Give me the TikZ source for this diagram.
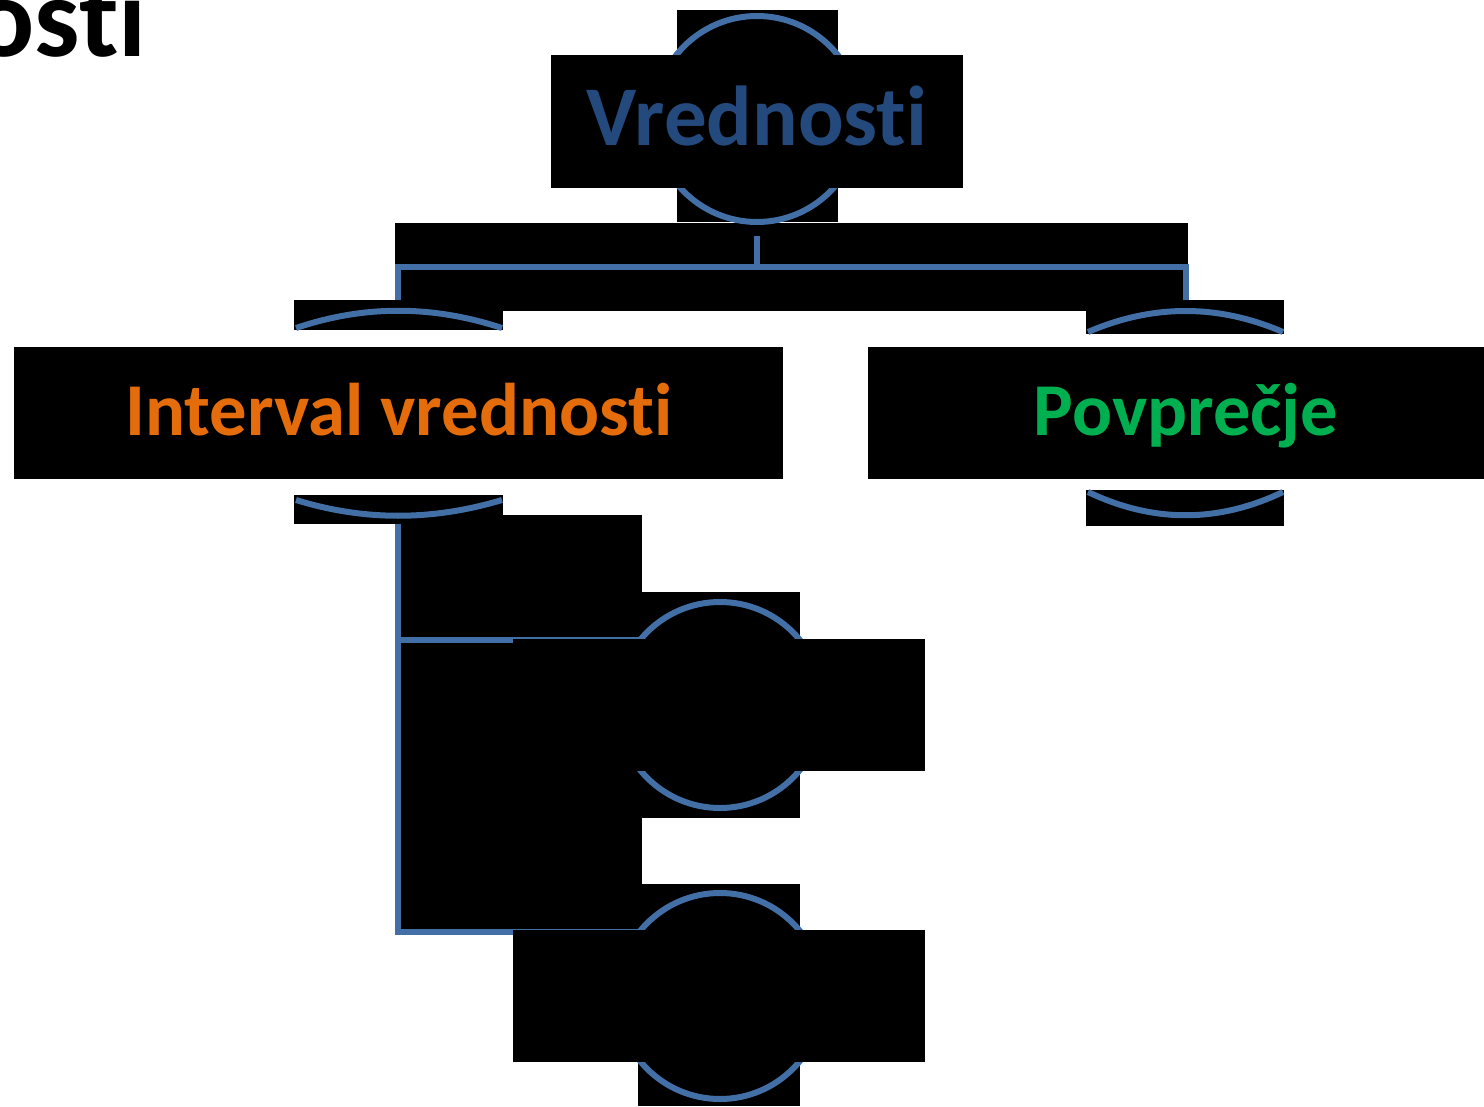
\documentclass[tikz,border=0pt]{standalone}
\usepackage{fontspec}
\setmainfont{Carlito}[Ligatures={NoCommon,NoRequired,NoContextual}]
\definecolor{ringblue}{RGB}{66,111,166}
\definecolor{titleblue}{RGB}{36,74,125}
\definecolor{orangetxt}{RGB}{228,108,10}
\definecolor{greentxt}{RGB}{0,176,80}
\begin{document}
\begin{tikzpicture}[x=0.5pt,y=-0.5pt,
  blk/.style={fill=black,draw=none},
  ring/.style={draw=ringblue,line width=3pt},
  conn/.style={draw=ringblue,line width=3pt},
  arcline/.style={draw=ringblue,line width=3pt},
  tbox/.style={fill=black,draw=none,inner sep=0pt,minimum height=66pt},
  lbl/.style={inner sep=0pt,anchor=base,font=\bfseries}]
\useasboundingbox (0,0) rectangle (1484,1107);
\fill[white] (0,0) rectangle (1484,1107);
% title fragment
\node[lbl,anchor=base east,font=\bfseries\fontsize{57}{60}\selectfont] (title) at (147,57) {osti};
% black backgrounds
\fill[blk] (677,10) rectangle (838,222);
\fill[blk] (395,223) rectangle (1188,311);
\fill[blk] (294,300) rectangle (503,330);
\fill[blk] (1086,300) rectangle (1284,334);
\fill[blk] (294,495) rectangle (503,524);
\fill[blk] (1086,490) rectangle (1284,526);
\fill[blk] (398,515) rectangle (642,930);
\fill[blk] (638,592) rectangle (800,818);
\fill[blk] (638,884) rectangle (800,1106);
% rings
\draw[ring] (757,119) circle [radius=103];
\draw[ring] (720,705) circle [radius=103];
\draw[ring] (720,996) circle [radius=103];
% coordinates for connectors
\coordinate (topdown) at (757,236);
\coordinate (bus) at (757,267);
\coordinate (lefttop) at (398,300);
\coordinate (righttop) at (1186,300);
\coordinate (leftdown) at (398,524);
\coordinate (elbow1) at (398,640);
\coordinate (ring1) at (640,640);
\coordinate (elbow2) at (398,932);
\coordinate (ring2) at (640,932);
\draw[conn] (topdown) -- (bus);
\draw[conn] (lefttop) -- (lefttop |- bus) -- (righttop |- bus) -- (righttop);
\draw[conn] (leftdown) -- (elbow2) -- (ring2);
\draw[conn] (elbow1) -- (ring1);
% arcs
\draw[arcline] (296,328) .. controls (364,305) and (432,305) .. (502,328);
\draw[arcline] (1088,332) .. controls (1153,304) and (1218,304) .. (1283,332);
\draw[arcline] (296,500) .. controls (364,521) and (432,521) .. (502,500);
\draw[arcline] (1088,492) .. controls (1153,523) and (1218,523) .. (1283,492);
% text boxes
\node[tbox,minimum width=206pt,minimum height=66.5pt] (vbox) at (757,121.5) {};
\node[tbox,minimum width=384.5pt] (ibox) at (398.5,413) {};
\node[tbox,minimum width=318pt] (pbox) at (1186,413) {};
\node[tbox,minimum width=206pt] (cbox) at (719,705) {};
\node[tbox,minimum width=206pt] (ebox) at (719,996) {};
% labels
\node[lbl,text=titleblue,font=\bfseries\fontsize{42.5}{45}\selectfont] (vtext) at (757,146) {Vrednosti};
\node[lbl,text=orangetxt,font=\bfseries\fontsize{37.3}{40}\selectfont] (itext) at (399,436) {Interval vrednosti};
\node[lbl,text=greentxt,font=\bfseries\fontsize{37.3}{40}\selectfont] (ptext) at (1186,436) {Povprečje};
\end{tikzpicture}
\end{document}
